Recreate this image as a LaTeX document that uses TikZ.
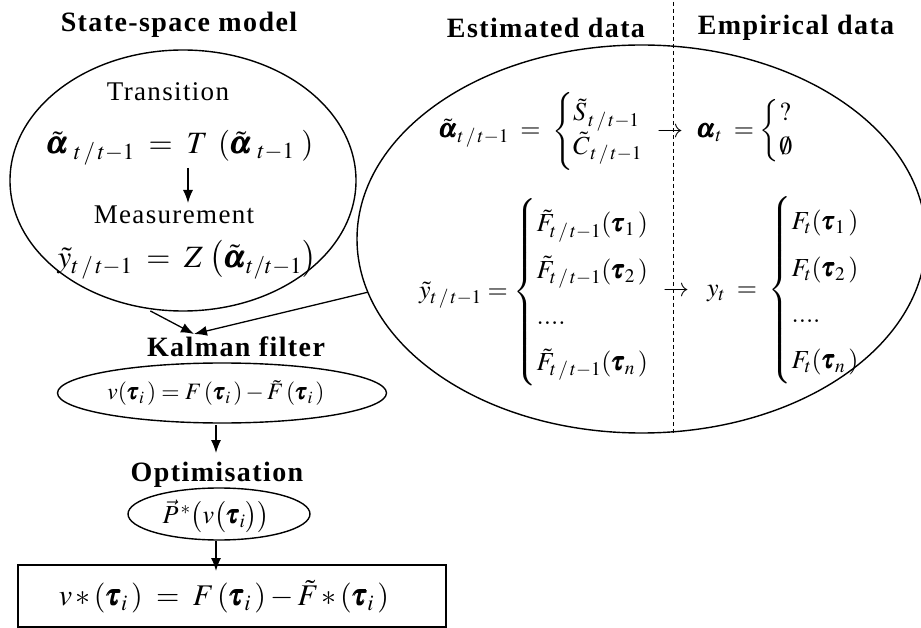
\documentclass[tikz,border=0pt]{standalone}
\usepackage{amsmath}
\usepackage{mathptmx}
\usepackage[no-math]{fontspec}
\setmainfont{Liberation Serif}
\usetikzlibrary{shapes.geometric,arrows.meta}
\begin{document}
\begin{tikzpicture}[x=1pt,y=-1pt,
  every node/.style={inner sep=0pt, outer sep=0pt},
  ttl/.style={font=\fontsize{28}{30}\selectfont\bfseries\addfontfeatures{LetterSpace=5}},
  lbl/.style={font=\fontsize{27}{29}\selectfont\addfontfeatures{LetterSpace=5}},
  big/.style={font=\fontsize{31}{33}\selectfont},
  res/.style={font=\fontsize{30}{32}\selectfont},
  mid/.style={font=\fontsize{26}{28}\selectfont},
  opt/.style={font=\fontsize{26}{28}\selectfont},
  small/.style={font=\fontsize{23.5}{25}\selectfont},
  oval/.style={draw, ellipse, line width=1.4pt},
  arr/.style={-{Latex[length=13pt,width=10pt]}, line width=1.3pt},
]
\useasboundingbox (0,0) rectangle (921,628);
% titles
\node[ttl] (ssmT) at (179,25) {State-space model};
\node[ttl] (estT) at (546,28) {Estimated data};
\node[ttl] (empT) at (796,28) {Empirical data};
% left ellipse
\node[oval, minimum width=346pt, minimum height=261pt] (ssm) at (183,180.5) {};
\node[lbl] (trans) at (168,92) {Transition};
\node[big] (eq1) at (180,148) {$\tilde{\pmb{\alpha}}_{\;t\,/\,t-1} \;=\; T\;\left(\tilde{\pmb{\alpha}}_{\;t-1}\;\right)$};
\node[lbl] (meas) at (174,215) {Measurement};
\node[big] (eq2) at (187,260) {$\tilde{y}_{t\,/\,t-1} \;=\; Z\,\left(\tilde{\pmb{\alpha}}_{t/t-1}\right)$};
\coordinate (a1s) at (188,168);
\coordinate (a1e) at (188,203);
\draw[arr] (a1s) -- (a1e);
% right ellipse
\node[oval, minimum width=569pt, minimum height=388pt] (est) at (641.5,239) {};
\draw[dash pattern=on 4pt off 3pt, line width=0.9pt] (673,2) coordinate (dtop) -- (673,433) coordinate (dbot);
\node[mid, anchor=west] (eqa) at (439,131) {$\tilde{\pmb{\alpha}}_{t\,/\,t-1} \;=\; \begin{cases} \tilde{S}_{\,t\,/\,t-1} \\ \tilde{C}_{\,t\,/\,t-1}\end{cases}$};
\node[mid] (arrA) at (670,133) {$\rightarrow$};
\node[mid, anchor=west] (eqb) at (697,131) {$\pmb{\alpha}_t\; = \begin{cases} ? \\ \emptyset \end{cases}$};
\node[mid, anchor=west] (eqy) at (419,292) {\renewcommand{\arraystretch}{1.65}$\tilde{y}_{t\,/\,t-1} = \left\{\begin{array}{@{}l} \tilde F_{t\,/\,t-1}(\pmb\tau_1\,) \\ \tilde F_{t\,/\,t-1}(\pmb\tau_2\,) \\ .... \\ \tilde F_{t\,/\,t-1}(\pmb\tau_n\,)\end{array}\right.$};
\node[mid] (arrB) at (676,292) {$\rightarrow$};
\node[mid, anchor=west] (eqyt) at (707,290) {\renewcommand{\arraystretch}{1.65}$y_t \;=\; \left\{\begin{array}{@{}l} F_t(\pmb\tau_1\,) \\ F_t(\pmb\tau_2\,) \\ .... \\ F_t(\pmb\tau_n\,)\end{array}\right.$};
% Kalman
\node[ttl] (kalT) at (236,347) {Kalman filter};
\node[oval, minimum width=329pt, minimum height=60pt] (kal) at (222,393) {};
\node[small] (kalEq) at (216,393) {$v(\pmb\tau_i\,) = F\,(\pmb\tau_i\,) - \tilde F\,(\pmb\tau_i\,)$};
\coordinate (kin) at (194,334);
\draw[arr, shorten <=7pt] (ssm.253) -- (kin);
\draw[arr] (est.191) -- (kin);
% Optimisation
\coordinate (a2s) at (216,425);
\coordinate (a2e) at (216,453);
\draw[arr] (a2s) -- (a2e);
\node[ttl] (optT) at (217,475) {Optimisation};
\node[oval, minimum width=182pt, minimum height=52pt] (opt) at (219,514) {};
\node[opt] (optEq) at (216,516) {$\vec{P}^{\,*}\bigl(v\bigl(\pmb\tau_i\bigr)\bigr)$};
\coordinate (a3s) at (216,541);
\coordinate (a3e) at (216,571);
\draw[arr] (a3s) -- (a3e);
% result
\node[draw, line width=1.4pt, minimum width=428pt, minimum height=62pt] (res) at (232,596) {};
\node[res] (resEq) at (224,597) {$v\,{*}\,(\pmb\tau_i\,) \;=\; F\,(\pmb\tau_i\,) - \tilde F\,{*}\,(\pmb\tau_i\,)$};
\end{tikzpicture}
\end{document}
